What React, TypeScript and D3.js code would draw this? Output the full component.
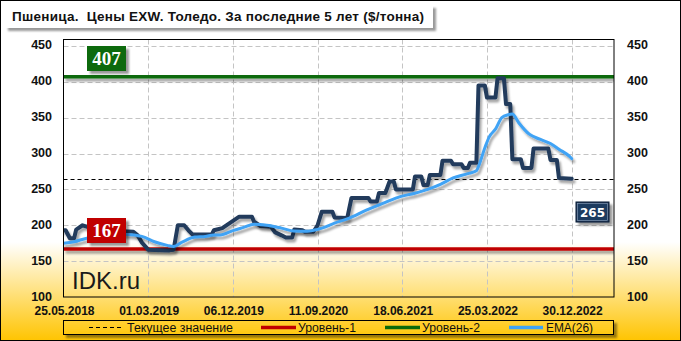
import React from 'react';
import * as d3 from 'd3';

const W = 681;
const H = 341;

const TITLE = 'Пшеница.  Цены EXW. Толедо. За последние 5 лет ($/тонна)';
const tickDates = ['2018-05-25', '2019-03-01', '2019-12-06', '2020-09-11', '2021-06-18', '2022-03-25', '2022-12-30'];
const tickLabels = ['25.05.2018', '01.03.2019', '06.12.2019', '11.09.2020', '18.06.2021', '25.03.2022', '30.12.2022'];
const yTicks = [100, 150, 200, 250, 300, 350, 400, 450];
const xDomain = ['2018-05-25', '2023-05-19'];
const yDomain = [100, 459];

const priceDates = [
  '2018-05-25', '2018-06-01', '2018-06-15', '2018-06-29', '2018-07-06', '2018-07-27', '2018-08-10', '2018-11-23',
  '2019-01-11', '2019-01-25', '2019-02-08', '2019-03-01', '2019-05-10', '2019-05-24', '2019-06-07', '2019-06-28',
  '2019-07-12', '2019-07-26', '2019-09-27', '2019-10-04', '2019-11-01', '2019-11-29', '2019-12-27', '2020-02-07',
  '2020-02-14', '2020-03-06', '2020-04-10', '2020-04-24', '2020-05-15', '2020-05-29', '2020-06-19', '2020-06-26',
  '2020-07-24', '2020-07-31', '2020-08-28', '2020-09-11', '2020-09-25', '2020-10-30', '2020-11-06', '2020-12-18',
  '2021-01-01', '2021-02-26', '2021-03-05', '2021-03-26', '2021-04-02', '2021-04-23', '2021-05-07', '2021-05-21',
  '2021-05-28', '2021-07-23', '2021-07-30', '2021-08-20', '2021-08-27', '2021-09-10', '2021-09-17', '2021-10-22',
  '2021-10-29', '2021-11-26', '2021-12-03', '2021-12-31', '2022-01-07', '2022-01-21', '2022-01-28', '2022-02-18',
  '2022-02-25', '2022-03-18', '2022-03-25', '2022-04-22', '2022-04-29', '2022-05-20', '2022-05-27', '2022-06-10',
  '2022-06-17', '2022-07-15', '2022-07-22', '2022-08-19', '2022-08-26', '2022-10-14', '2022-10-21', '2022-11-11',
  '2022-11-18', '2022-12-30',
];
const priceValues = [
  193, 193, 182, 182, 194, 200, 198, 192,
  191, 186, 176, 166, 165, 166, 200, 200,
  193, 187, 187, 193, 196, 204, 212, 212,
  205, 199, 198, 190, 186, 183, 183, 194,
  193, 191, 191, 200, 219, 219, 211, 210,
  238, 238, 233, 233, 245, 245, 261, 261,
  250, 250, 268, 268, 256, 256, 270, 270,
  290, 290, 285, 285, 280, 280, 287, 287,
  395, 395, 378, 378, 405, 405, 369, 369,
  292, 292, 280, 280, 307, 307, 291, 291,
  266, 265,
];

const emaDates = [
  '2018-05-25', '2018-06-29', '2018-08-10', '2018-12-21', '2019-02-08', '2019-03-22', '2019-05-03', '2019-05-24',
  '2019-06-21', '2019-08-02', '2019-09-06', '2019-10-04', '2019-10-25', '2019-12-06', '2020-01-10', '2020-02-14',
  '2020-03-27', '2020-05-15', '2020-06-26', '2020-08-07', '2020-08-28', '2020-09-25', '2020-11-06', '2020-12-18',
  '2021-02-19', '2021-04-23', '2021-06-11', '2021-07-23', '2021-09-10', '2021-10-22', '2021-12-03', '2022-01-21',
  '2022-02-18', '2022-02-25', '2022-03-18', '2022-04-01', '2022-04-22', '2022-05-13', '2022-06-03', '2022-06-17',
  '2022-07-08', '2022-08-12', '2022-09-16', '2022-10-21', '2022-11-18', '2022-12-23', '2022-12-30',
];
const emaValues = [
  175, 177, 182, 187, 184.5, 177, 172, 170.5,
  176.5, 183.5, 184.5, 186.5, 186.5, 192.5, 197, 201.5,
  200, 196, 192, 191.5, 193, 196, 203, 209,
  221, 232, 240, 244, 250, 257, 266, 272,
  276, 282, 308, 323, 334, 350, 354, 355,
  343, 327, 320, 314, 306, 296, 293,
];

const currentValue = 265;
const level1 = 167;
const level2 = 407;
const legendLabels = ['Текущее значение', 'Уровень-1', 'Уровень-2', 'EMA(26)'];

const C_PRICE = '#203A5C';
const C_EMA = '#3FA3F5';
const C_RED = '#C00000';
const C_GREEN = '#0A6A0A';
const SANS = '"Liberation Sans", Arial, sans-serif';
const SERIF = '"Liberation Serif", "Times New Roman", serif';

const parse = d3.timeParse('%Y-%m-%d');

export default function App() {
  const left = 63.5, right = 614, top = 39.5, bottom = 297;
  const x = d3.scaleTime().domain(xDomain.map((d) => parse(d) as Date)).range([left, right]);
  const y = d3.scaleLinear().domain(yDomain).range([bottom, top]);

  const price = priceDates.map((d, i) => ({ date: parse(d) as Date, v: priceValues[i] }));
  const ema = emaDates.map((d, i) => ({ date: parse(d) as Date, v: emaValues[i] }));

  const priceLine = d3.line<{ date: Date; v: number }>().x((d) => x(d.date)).y((d) => y(d.v)).curve(d3.curveLinear);
  const emaLine = d3.line<{ date: Date; v: number }>().x((d) => x(d.date)).y((d) => y(d.v)).curve(d3.curveMonotoneX);

  const legendY = 327.5;
  const legendItems = [
    { x1: 89, x2: 122, tx: 127, tw: 106, color: '#000', dash: '4 3', w: 1 },
    { x1: 261, x2: 296, tx: 298, tw: 58, color: C_RED, dash: undefined, w: 3.5 },
    { x1: 385, x2: 420, tx: 422, tw: 58, color: C_GREEN, dash: undefined, w: 3.5 },
    { x1: 509, x2: 543, tx: 546, tw: 47, color: C_EMA, dash: undefined, w: 3.5 },
  ];

  return (
    <svg width={W} height={H} style={{ position: 'absolute', left: 0, top: 0 }} xmlns="http://www.w3.org/2000/svg">
      <defs>
        <linearGradient id="bg" gradientUnits="userSpaceOnUse" x1="0" y1="0" x2="0" y2={H}>
          <stop offset="0" stopColor="#FFFFFF" />
          <stop offset="0.71" stopColor="#FFFFFF" />
          <stop offset="1" stopColor="#FFC400" />
        </linearGradient>
        <filter id="sh" filterUnits="userSpaceOnUse" x="0" y="0" width={W} height={H}>
          <feDropShadow dx="2" dy="3" stdDeviation="1.3" floodColor="#000" floodOpacity="0.35" />
        </filter>
        <filter id="shBox" filterUnits="userSpaceOnUse" x="0" y="0" width={W} height={H}>
          <feDropShadow dx="3" dy="3" stdDeviation="1.2" floodColor="#000" floodOpacity="0.4" />
        </filter>
        <clipPath id="plotClip">
          <rect x={left} y={top} width={right - left} height={bottom - top} />
        </clipPath>
      </defs>

      <rect x={0} y={0} width={W} height={H} fill="url(#bg)" />
      <rect x={0.5} y={0.5} width={W - 1} height={H - 1} fill="none" stroke="#000" strokeWidth={1} />

      {/* title */}
      <rect x={5} y={5} width={428} height={23} fill="#fff" filter="url(#shBox)" />
      <text x={12} y={21} fontFamily={SANS} fontSize={13.5} fontWeight="bold" fill="#111"
        textLength={412} lengthAdjust="spacing" style={{ whiteSpace: 'pre' }}>{TITLE}</text>

      {/* plot background */}
      <rect x={left} y={top} width={right - left} height={bottom - top} fill="url(#bg)" />

      {/* grid */}
      <g stroke="#C4C4C4" strokeWidth={1} strokeDasharray="5 3">
        {yTicks.filter((t) => t > 100).map((t) => (
          <line key={'h' + t} x1={left} x2={right} y1={Math.round(y(t)) + 0.5} y2={Math.round(y(t)) + 0.5} />
        ))}
        {tickDates.slice(1).map((d) => {
          const xx = Math.round(x(parse(d) as Date)) + 0.5;
          return <line key={'v' + d} x1={xx} x2={xx} y1={top} y2={bottom} />;
        })}
      </g>

      <g clipPath="url(#plotClip)">
        <line x1={left} x2={right} y1={y(level2)} y2={y(level2)} stroke={C_GREEN} strokeWidth={3.5} filter="url(#sh)" />
        <line x1={left} x2={right} y1={y(level1)} y2={y(level1)} stroke={C_RED} strokeWidth={3.5} filter="url(#sh)" />
        <line x1={left} x2={right} y1={Math.round(y(currentValue)) + 0.5} y2={Math.round(y(currentValue)) + 0.5}
          stroke="#000" strokeWidth={1} strokeDasharray="4 3" />
        <path d={priceLine(price) || ''} fill="none" stroke={C_PRICE} strokeWidth={4} strokeLinejoin="round"
          strokeLinecap="round" filter="url(#sh)" />
        <path d={emaLine(ema) || ''} fill="none" stroke={C_EMA} strokeWidth={3} strokeLinejoin="round"
          strokeLinecap="round" filter="url(#sh)" />
      </g>

      <text x={72} y={289} fontFamily={SANS} fontSize={24} fill="#1a1a1a">IDK.ru</text>

      <rect x={left} y={top} width={right - left} height={bottom - top} fill="none" stroke="#000" strokeWidth={1} />

      {/* level labels */}
      <g filter="url(#shBox)">
        <rect x={87} y={46} width={39} height={25} fill={C_GREEN} />
        <rect x={87} y={218} width={39} height={25} fill={C_RED} />
        <rect x={576} y={202} width={33} height={20} fill="#1C3A5E" stroke="#0B1B30" strokeWidth={1} />
      </g>
      <rect x={577.5} y={203.5} width={30} height={17} fill="none" stroke="#8FA3BD" strokeWidth={0.6} />
      <text x={106.5} y={65} textAnchor="middle" fontFamily={SERIF} fontWeight="bold" fontSize={19} fill="#fff">{level2}</text>
      <text x={106.5} y={237} textAnchor="middle" fontFamily={SERIF} fontWeight="bold" fontSize={19} fill="#fff">{level1}</text>
      <text x={592.5} y={216.5} textAnchor="middle" fontFamily='"DejaVu Sans", Verdana, sans-serif' fontWeight="bold" fontSize={12} fill="#fff">{currentValue}</text>

      {/* y axes */}
      <g fontFamily={SANS} fontSize={12.5} fontWeight="bold" fill="#111">
        {yTicks.map((t) => (
          <React.Fragment key={'yt' + t}>
            <text x={52} y={y(t) + 3.5} textAnchor="end">{t}</text>
            <text x={627} y={y(t) + 3.5} textAnchor="start">{t}</text>
          </React.Fragment>
        ))}
      </g>

      {/* x axis */}
      <g fontFamily={SANS} fontSize={12} fontWeight="bold" fill="#111">
        {tickDates.map((d, i) => (
          <text key={'xt' + d} x={x(parse(d) as Date) + 1} y={314.5} textAnchor="middle">{tickLabels[i]}</text>
        ))}
      </g>

      {/* legend */}
      <rect x={63.5} y={320.5} width={550} height={14} fill="url(#bg)" stroke="#000" strokeWidth={1} filter="url(#shBox)" />
      {legendItems.map((it, i) => (
        <g key={'lg' + i}>
          <line x1={it.x1} x2={it.x2} y1={legendY} y2={legendY} stroke={it.color} strokeWidth={it.w}
            strokeDasharray={it.dash} />
          <text x={it.tx} y={legendY + 4.5} fontFamily={SANS} fontSize={12.5} fill="#111"
            textLength={it.tw} lengthAdjust="spacingAndGlyphs">{legendLabels[i]}</text>
        </g>
      ))}
    </svg>
  );
}
